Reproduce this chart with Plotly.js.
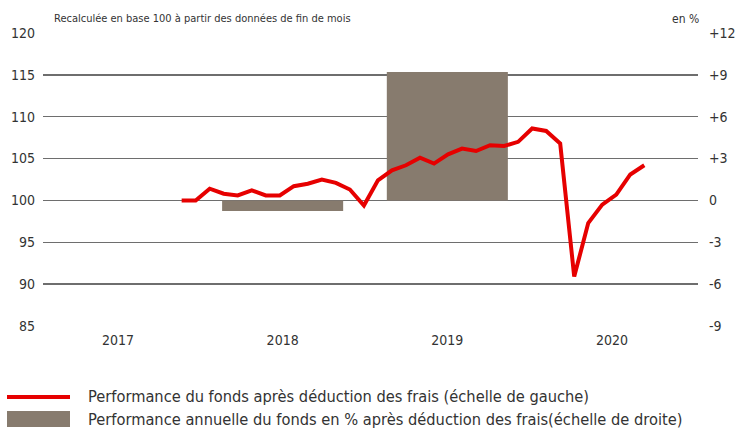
<!DOCTYPE html>
<html>
<head>
<meta charset="utf-8">
<script src="https://cdn.plot.ly/plotly-3.0.1.min.js"></script>
<style>html,body{margin:0;padding:0;background:#fff;}#chart{width:736px;height:428px;}</style>
</head>
<body>
<div id="chart"></div>
<script>
// ---- data ----
const years = ['2017', '2018', '2019', '2020'];
const annualPerf = [null, -0.75, 9.2, null]; // % (right scale)
const fundIndex = [100.0, 100.0, 101.4, 100.8, 100.6, 101.2, 100.6, 100.6, 101.7, 102.0,
  102.5, 102.1, 101.3, 99.4, 102.4, 103.6, 104.2, 105.1, 104.4, 105.5,
  106.2, 105.9, 106.6, 106.5, 107.0, 108.6, 108.3, 106.8, 90.9, 97.3,
  99.5, 100.7, 103.1, 104.2]; // base 100 (left scale), month-end
const monthIndex = fundIndex.map((_, i) => i);
const rightTickVals = [-9, -6, -3, 0, 3, 6, 9, 12];
const rightTickText = ['-9', '-6', '-3', '0', '+3', '+6', '+9', '+12'];
const lineName = 'Performance du fonds après déduction des frais (échelle de gauche)';
const barName = 'Performance annuelle du fonds en % après déduction des frais(échelle de droite)';
const headerLeft = 'Recalculée en base 100 à partir des données de fin de mois';
const headerRight = 'en %';

const FONT = 'Liberation Sans Narrow, DejaVu Sans Condensed, Roboto, sans-serif';
const TXT = '#333333';
const RED = '#e60000';
const BROWN = '#877b6e';

const traces = [
  {
    type: 'bar', x: years, y: annualPerf, name: barName,
    xaxis: 'x', yaxis: 'y', width: 0.735,
    marker: {color: BROWN, line: {width: 0}}, hoverinfo: 'skip'
  },
  {
    type: 'scatter', mode: 'lines', x: monthIndex, y: fundIndex, name: lineName,
    xaxis: 'x2', yaxis: 'y2',
    line: {color: RED, width: 4, shape: 'linear'}, hoverinfo: 'skip'
  }
];

const W = 655, H = 293;
const layout = {
  width: 736, height: 428,
  margin: {l: 43, r: 38, t: 33, b: 102},
  paper_bgcolor: '#fff', plot_bgcolor: '#fff',
  showlegend: false,
  font: {family: FONT, color: TXT, size: 14},
  xaxis: {
    type: 'category', range: [-0.455, 3.522], showgrid: false, zeroline: false,
    showline: false, ticks: '', tickfont: {size: 14, color: TXT}, ticklabelstandoff: 4,
    fixedrange: true
  },
  yaxis: {
    side: 'right', range: [-9, 12], tickmode: 'array', tickvals: rightTickVals, ticktext: rightTickText,
    showgrid: true, gridcolor: '#6e6e6e', gridwidth: 1.4, zeroline: false, showline: false,
    ticks: '', tickfont: {size: 14, color: TXT}, ticklabelstandoff: 10, fixedrange: true
  },
  xaxis2: {
    overlaying: 'x', range: [-9.89, 36.83], visible: false, fixedrange: true
  },
  yaxis2: {
    overlaying: 'y', side: 'left', range: [85, 120], dtick: 5, tick0: 85,
    showgrid: false, zeroline: false, showline: false, ticks: '',
    tickfont: {size: 14, color: TXT}, ticklabelstandoff: 7, fixedrange: true
  },
  shapes: [
    {type: 'line', xref: 'paper', yref: 'paper', x0: -36 / W, x1: 27 / W,
      y0: -(397 - 326) / H, y1: -(397 - 326) / H, line: {color: RED, width: 4}},
    {type: 'rect', xref: 'paper', yref: 'paper', x0: -36 / W, x1: 27 / W,
      y0: -(411 - 326) / H, y1: -(427 - 326) / H, fillcolor: BROWN, line: {width: 0}}
  ],
  annotations: [
    {xref: 'paper', yref: 'paper', x: 9 / W, y: 1 + (33 - 19) / H, xanchor: 'left', yanchor: 'middle',
      text: headerLeft, showarrow: false, font: {size: 11, color: TXT}},
    {xref: 'paper', yref: 'paper', x: 1 + 3 / W, y: 1 + (33 - 19) / H, xanchor: 'right', yanchor: 'middle',
      text: headerRight, showarrow: false, font: {size: 12, color: TXT}},
    {xref: 'paper', yref: 'paper', x: 43 / W, y: -(396 - 326) / H, xanchor: 'left', yanchor: 'middle',
      text: lineName, showarrow: false, font: {size: 16.3, color: TXT}},
    {xref: 'paper', yref: 'paper', x: 43 / W, y: -(419 - 326) / H, xanchor: 'left', yanchor: 'middle',
      text: barName, showarrow: false, font: {size: 16.3, color: TXT}}
  ]
};

Plotly.newPlot('chart', traces, layout, {staticPlot: true, displayModeBar: false});
</script>
</body>
</html>
